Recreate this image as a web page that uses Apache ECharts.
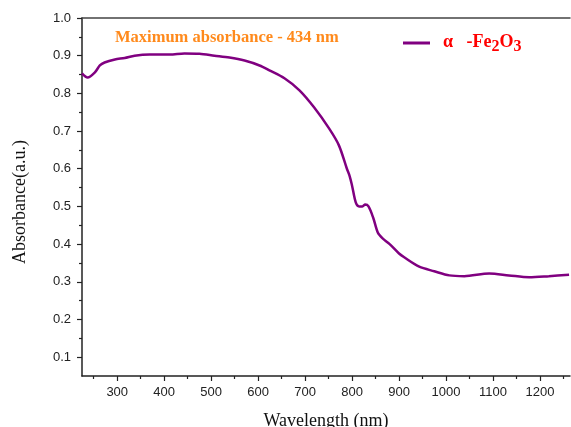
<!DOCTYPE html>
<html><head><meta charset="utf-8">
<script src="https://cdn.jsdelivr.net/npm/echarts@6/dist/echarts.min.js"></script>
<style>html,body{margin:0;padding:0;background:#fff}#c{width:571px;height:427px}</style>
</head><body><div id="c"></div>
<script>
const wavelength = [225,237,252,263,273,295,316,337,369,412,443,475,507,539,571,603,624,656,688,719,751,772,789,795,800,808,815,822,828,835,845,855,865,880,900,911,943,975,1007,1039,1092,1134,1177,1219,1262];
const absorbance = [0.853,0.842,0.855,0.874,0.882,0.890,0.894,0.900,0.903,0.903,0.906,0.905,0.900,0.895,0.887,0.874,0.861,0.840,0.808,0.763,0.707,0.662,0.600,0.580,0.555,0.510,0.500,0.500,0.505,0.500,0.470,0.430,0.415,0.400,0.375,0.365,0.340,0.328,0.317,0.315,0.322,0.317,0.312,0.315,0.319];
const yMajor = [0.1,0.2,0.3,0.4,0.5,0.6,0.7,0.8,0.9,1.0];
const yMinor = [0.15,0.25,0.35,0.45,0.55,0.65,0.75,0.85,0.95];
const xMajor = [300,400,500,600,700,800,900,1000,1100,1200];
const xMinor = [250,350,450,550,650,750,850,950,1050,1150,1250];
const seriesName = 'α-Fe2O3';
const titleText = 'Maximum absorbance - 434 nm';

const chart = echarts.init(document.getElementById('c'));
const data = wavelength.map((w,i)=>[w,absorbance[i]]);
const axColor = '#222';
const labelFont = {fontFamily:'Liberation Sans, Arial', fontSize:13, color:'#222'};
chart.setOption({
  animation:false,
  grid:{left:82,right:1,top:18,bottom:51,outerBoundsMode:'none',containLabel:false},
  xAxis:[
    {type:'value',min:225,max:1264,position:'bottom',
     axisLine:{lineStyle:{color:axColor,width:1.5}},
     axisTick:{show:true,inside:false,length:5,customValues:xMajor,lineStyle:{color:axColor,width:1.2}},
     axisLabel:Object.assign({customValues:xMajor,margin:10,formatter:v=>String(Math.round(v))},labelFont),
     splitLine:{show:false},
     name:'Wavelength (nm)',nameLocation:'middle',nameGap:36,
     nameTextStyle:{fontFamily:'Liberation Serif, Times New Roman',fontSize:18,color:'#111'}},
    {type:'value',min:225,max:1264,position:'bottom',
     axisLine:{show:false},
     axisTick:{show:true,length:3,customValues:xMinor,lineStyle:{color:axColor,width:1.2}},
     axisLabel:{show:false},splitLine:{show:false}},
    {type:'value',min:225,max:1264,position:'top',
     axisLine:{lineStyle:{color:'#444',width:1.5}},
     axisTick:{show:false},axisLabel:{show:false},splitLine:{show:false}}
  ],
  yAxis:[
    {type:'value',min:0.05,max:1.0,position:'left',
     axisLine:{show:true,lineStyle:{color:axColor,width:1.5}},
     axisTick:{show:true,length:5,customValues:yMajor,lineStyle:{color:axColor,width:1.2}},
     axisLabel:Object.assign({customValues:yMajor,margin:11,formatter:v=>v.toFixed(1)},labelFont),
     splitLine:{show:false},
     name:'Absorbance(a.u.)',nameLocation:'middle',nameGap:53,
     nameTextStyle:{fontFamily:'Liberation Serif, Times New Roman',fontSize:18,color:'#111',padding:[0,10,0,0]}},
    {type:'value',min:0.05,max:1.0,position:'left',
     axisLine:{show:false},
     axisTick:{show:true,length:3,customValues:yMinor,lineStyle:{color:axColor,width:1.2}},
     axisLabel:{show:false},splitLine:{show:false}}
  ],
  series:[{
    type:'line',name:seriesName,data:data,smooth:0.3,showSymbol:false,
    xAxisIndex:0,yAxisIndex:0,
    lineStyle:{color:'#800080',width:2.5},itemStyle:{color:'#800080'}
  }],
  graphic:[
    {type:'text',left:115,top:29,style:{text:titleText,font:'bold 16.5px "Liberation Serif", "Times New Roman"',fill:'#ff8a1c'}},
    {type:'line',shape:{x1:403,y1:43,x2:430,y2:43},style:{stroke:'#800080',lineWidth:3}},
    {type:'text',left:443,top:33,style:{
      rich:{
        a:{fill:'#ff0000',fontSize:18,fontWeight:'bold',fontFamily:'Liberation Serif'},
        s:{fill:'#ff0000',fontSize:16,fontWeight:'bold',fontFamily:'Liberation Serif',padding:[10,0,0,0]}
      },
      text:'{a|α   -Fe}{s|2}{a|O}{s|3}'}}
  ]
});
</script></body></html>
